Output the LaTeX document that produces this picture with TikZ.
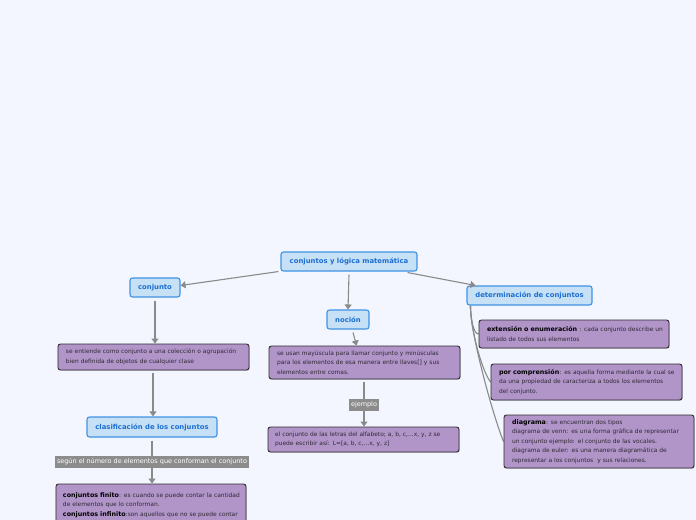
\documentclass[tikz,border=0pt]{standalone}
\usepackage{fontspec}
\setmainfont{DejaVu Sans}
\usetikzlibrary{arrows.meta,shadows,backgrounds}
\definecolor{bg}{HTML}{F3F6FE}
\definecolor{bluefill}{HTML}{C6E0F5}
\definecolor{blueline}{HTML}{3F93E4}
\definecolor{bluetext}{HTML}{1C6FD2}
\definecolor{purplefill}{HTML}{B195C9}
\definecolor{purpleline}{HTML}{2E2A30}
\definecolor{conncol}{HTML}{8A8A8A}
\definecolor{labfill}{HTML}{8C8C8C}
\definecolor{bodytext}{HTML}{2E2833}
\tikzset{
  topic/.style={draw=blueline, line width=1.1bp, fill=bluefill, rounded corners=2.5bp,
    text=bluetext, font=\fontsize{6.9}{8}\selectfont\bfseries, inner sep=0pt,
    minimum height=19bp},
  note/.style={draw=purpleline, line width=0.9bp, fill=purplefill, rounded corners=2.5bp,
    text=bodytext, font=\fontsize{5.95}{9.6}\selectfont, align=left, inner sep=0pt,
    drop shadow={shadow xshift=0.8bp, shadow yshift=-0.8bp, opacity=0.35}},
  lab/.style={fill=labfill, text=white, font=\fontsize{6.5}{7}\selectfont, inner xsep=2.5bp,
    inner ysep=0pt, minimum height=12bp},
  conn/.style={draw=conncol, line width=1.1bp, -{Triangle[width=7bp,length=5bp]}},
  branch/.style={draw=conncol, line width=1.1bp},
}
\newcommand{\bhead}[1]{{\fontsize{6.4}{9.6}\selectfont\bfseries\color{black}#1}}
\newcommand{\ml}[1]{\mbox{#1}}
\begin{document}
\begin{tikzpicture}[x=1bp,y=-1bp]
\useasboundingbox (0,0) rectangle (696,520);
\clip (0,0) rectangle (696,520);

% topics
\node[topic, minimum width=136bp] (root) at (349,261.5) {conjuntos y lógica matemática};
\node[topic, minimum width=50bp] (conj) at (155,287.5) {conjunto};
\node[topic, minimum width=42bp] (noc) at (348,319.5) {noción};
\node[topic, minimum width=125bp] (det) at (529.5,295.5) {determinación de conjuntos};
\node[topic, minimum width=130bp, minimum height=20bp] (clas) at (152,427) {clasificación de los conjuntos};

% notes
\node[note, minimum width=191bp, minimum height=26bp, text width=175bp] (ent) at (153.5,357)
  {\ml{se entiende como conjunto a una colección o agrupación}\\\ml{bien definida de objetos de cualquier clase}};
\node[note, minimum width=190bp, minimum height=50bp, text width=176bp] (fin) at (151,509)
  {\ml{\bhead{conjuntos finito}: es cuando se puede contar la cantidad}\\\ml{de elementos que lo conforman.}\\\ml{\bhead{conjuntos infinito}:son aquellos que no se puede contar}\\\ml{la cantidad.}};
\node[note, minimum width=191bp, minimum height=33bp, text width=175bp] (usan) at (364.5,362.5)
  {\ml{se usan mayúscula para llamar conjunto y minúsculas}\\\ml{para los elementos de esa manera entre llaves[] y sus}\\\ml{elementos entre comas.}};
\node[note, minimum width=191bp, minimum height=25bp, text width=177bp] (letras) at (363.5,439.5)
  {\ml{el conjunto de las letras del alfabeto; a, b, c,...x, y, z se}\\\ml{puede escribir así: L=[a, b, c,...x, y, z]}};
\node[note, minimum width=190bp, minimum height=28bp, text width=174bp] (ext) at (574,334)
  {\ml{\bhead{extensión o enumeración} : cada conjunto describe un}\\\ml{listado de todos sus elementos}};
\node[note, minimum width=191bp, minimum height=36bp, text width=175bp] (comp) at (586.5,382)
  {\ml{\bhead{por comprensión}: es aquella forma mediante la cual se}\\\ml{da una propiedad de caracteriza a todos los elementos}\\\ml{del conjunto.}};
\node[note, minimum width=190bp, minimum height=53bp, text width=174bp] (diag) at (599,441.5)
  {\ml{\bhead{diagrama}: se encuentran dos tipos}\\\ml{diagrama de venn: es una forma gráfica de representar}\\\ml{un conjunto ejemplo: el conjunto de las vocales.}\\\ml{diagrama de euler: es una manera diagramática de}\\\ml{representar a los conjuntos\ \ y sus relaciones.}};

% background and branches (behind the notes)
\begin{scope}[on background layer]
\fill[bg] (0,0) rectangle (696,520);
\coordinate (bst) at ([xshift=4bp]det.south west);
\draw[branch] (bst) .. controls ([yshift=-13bp]bst) and ([xshift=-5bp]ext.west) .. (ext.west);
\draw[branch] (bst) .. controls ([yshift=-25bp]bst) and ([xshift=-8bp,yshift=10bp]comp.west) .. (comp.west);
\draw[branch] (bst) .. controls ([yshift=-30bp]bst) and ([xshift=-9bp,yshift=21bp]diag.west) .. (diag.west);
\end{scope}

% connectors
\draw[conn] ([xshift=-2bp]root.south west) -- ([yshift=2bp]conj.east);
\draw[conn] ([yshift=-3bp]root.south) -- (noc.north);
\draw[conn] ([xshift=-10bp,yshift=-1bp]root.south east) -- ([xshift=9bp]det.north west);
\draw[conn] ([yshift=-3bp]conj.south) -- (conj.south |- ent.north);
\draw[conn] ([yshift=-3bp,xshift=-0.5bp]ent.south) -- ([xshift=-0.5bp]ent.north |- clas.north);
\draw[conn] ([yshift=-3bp]clas.south) -- node[lab] (l1) {según el número de elementos que conforman el conjunto} (clas.south |- fin.north);
\draw[conn] ([xshift=5bp,yshift=-3bp]noc.south) -- ([xshift=-8bp]usan.north);
\draw[conn] ([yshift=-3bp,xshift=-0.5bp]usan.south) -- node[lab] (l2) {ejemplo} ([xshift=-0.5bp]usan.south |- letras.north);
\end{tikzpicture}
\end{document}
